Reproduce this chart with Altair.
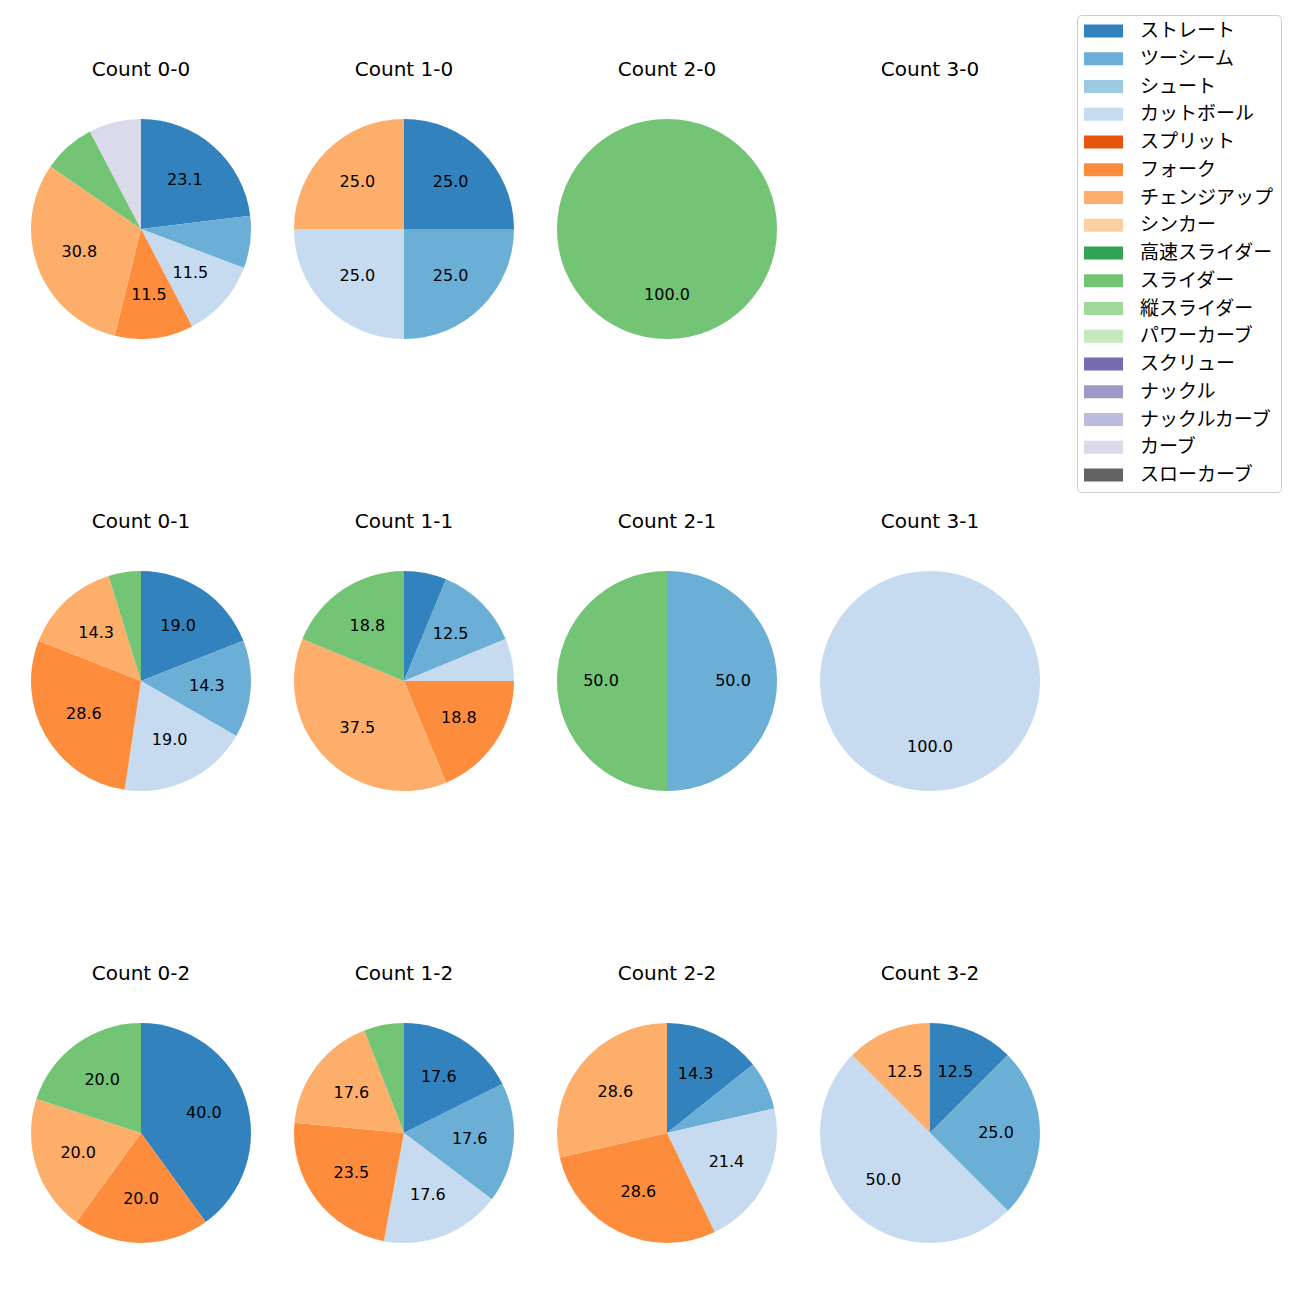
import altair as alt
import pandas as pd

FONT_JP = "Noto Sans CJK JP"
FONT_LAT = "DejaVu Sans"

pitch_types = ["ストレート", "ツーシーム", "シュート", "カットボール", "スプリット", "フォーク",
               "チェンジアップ", "シンカー", "高速スライダー", "スライダー", "縦スライダー",
               "パワーカーブ", "スクリュー", "ナックル", "ナックルカーブ", "カーブ", "スローカーブ"]
colors = ["#3182bd", "#6baed6", "#9ecae1", "#c6dbef", "#e6550d", "#fd8d3c", "#fdae6b",
          "#fdd0a2", "#31a354", "#74c476", "#a1d99b", "#c7e9c0", "#756bb1", "#9e9ac8",
          "#bcbddc", "#dadaeb", "#636363"]

# counts per pitch type (same order as pitch_types), keyed by "balls-strikes"
c_0_0 = [6, 2, 0, 3, 0, 3, 8, 0, 0, 2, 0, 0, 0, 0, 0, 2, 0]
c_1_0 = [1, 1, 0, 1, 0, 0, 1, 0, 0, 0, 0, 0, 0, 0, 0, 0, 0]
c_2_0 = [0, 0, 0, 0, 0, 0, 0, 0, 0, 1, 0, 0, 0, 0, 0, 0, 0]
c_3_0 = [0, 0, 0, 0, 0, 0, 0, 0, 0, 0, 0, 0, 0, 0, 0, 0, 0]
c_0_1 = [4, 3, 0, 4, 0, 6, 3, 0, 0, 1, 0, 0, 0, 0, 0, 0, 0]
c_1_1 = [1, 2, 0, 1, 0, 3, 6, 0, 0, 3, 0, 0, 0, 0, 0, 0, 0]
c_2_1 = [0, 1, 0, 0, 0, 0, 0, 0, 0, 1, 0, 0, 0, 0, 0, 0, 0]
c_3_1 = [0, 0, 0, 1, 0, 0, 0, 0, 0, 0, 0, 0, 0, 0, 0, 0, 0]
c_0_2 = [2, 0, 0, 0, 0, 1, 1, 0, 0, 1, 0, 0, 0, 0, 0, 0, 0]
c_1_2 = [3, 3, 0, 3, 0, 4, 3, 0, 0, 1, 0, 0, 0, 0, 0, 0, 0]
c_2_2 = [2, 1, 0, 3, 0, 4, 4, 0, 0, 0, 0, 0, 0, 0, 0, 0, 0]
c_3_2 = [1, 2, 0, 4, 0, 0, 1, 0, 0, 0, 0, 0, 0, 0, 0, 0, 0]

panels = {
    (0, 0): c_0_0, (1, 0): c_1_0, (2, 0): c_2_0, (3, 0): c_3_0,
    (0, 1): c_0_1, (1, 1): c_1_1, (2, 1): c_2_1, (3, 1): c_3_1,
    (0, 2): c_0_2, (1, 2): c_1_2, (2, 2): c_2_2, (3, 2): c_3_2,
}

color_scale = alt.Scale(domain=pitch_types, range=colors)


def pie(balls, strikes):
    counts = panels[(balls, strikes)]
    total = sum(counts)
    rows = []
    for i, (t, c) in enumerate(zip(pitch_types, counts)):
        if c > 0:
            pct = 100.0 * c / total
            rows.append({"type": t, "count": c, "order": i,
                         "label": f"{pct:.1f}" if pct >= 10 else ""})
    df = pd.DataFrame(rows, columns=["type", "count", "order", "label"])
    base = alt.Chart(df).encode(
        theta=alt.Theta("count:Q", stack=True),
        order=alt.Order("order:Q", sort="ascending"),
    )
    arc = base.mark_arc(stroke=None, strokeWidth=0).encode(
        color=alt.Color("type:N", scale=color_scale,
                        legend=alt.Legend(title=None)),
    )
    text = base.mark_text(radius=66, font=FONT_LAT, fontSize=16, color="black").encode(
        text="label:N"
    )
    return alt.layer(arc, text).properties(
        width=220, height=220,
        title=alt.TitleParams(f"Count {balls}-{strikes}", font=FONT_LAT, fontSize=20,
                              fontWeight="normal", color="black", offset=39),
    )


rows = []
for s in range(3):
    rows.append(alt.hconcat(*[pie(b, s) for b in range(4)], spacing=43))

chart = alt.vconcat(*rows, spacing=173).properties(
    padding={"left": 23, "top": 6, "right": 5, "bottom": 5}
).configure_view(stroke=None).configure_legend(
    orient="none", legendX=1046, legendY=-104,
    strokeColor="#cccccc", cornerRadius=4, padding=7, fillColor="white",
    symbolType="M-1,-0.33L1,-0.33L1,0.33L-1,0.33Z", symbolSize=1521,
    symbolStrokeWidth=0, labelFont=FONT_JP, labelFontSize=19, labelColor="black",
    labelOffset=17, clipHeight=18, rowPadding=8.75, labelLimit=300,
).configure_title(anchor="middle")

chart.save("out.html", embed_options={"renderer": "svg", "actions": False})
